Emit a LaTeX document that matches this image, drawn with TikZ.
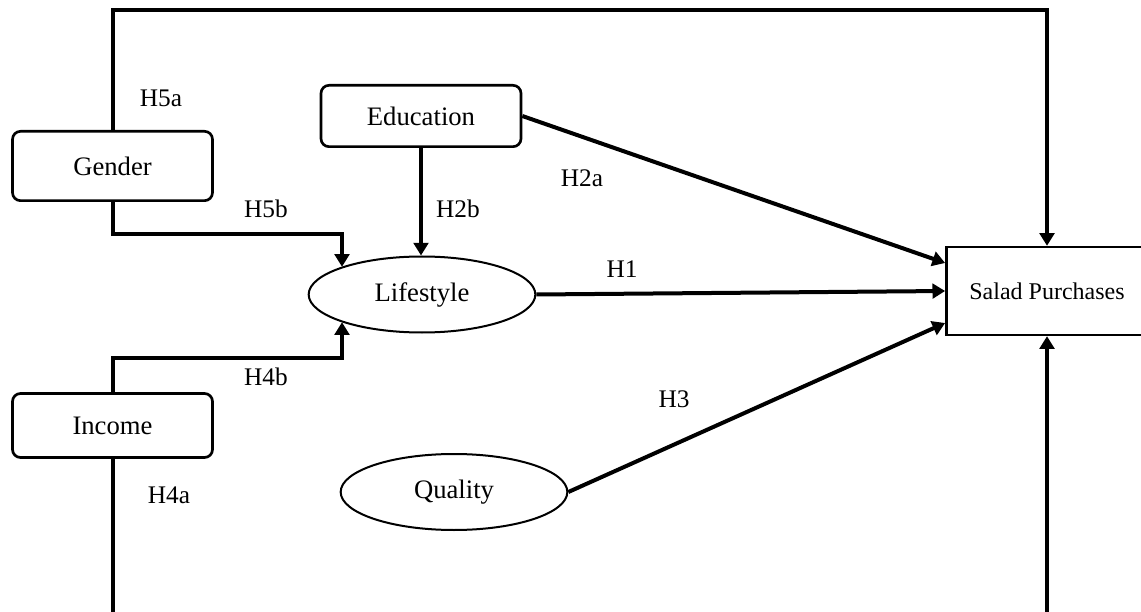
\documentclass[tikz,border=0pt]{standalone}
\usepackage{fontspec}
\setmainfont{Liberation Serif}
\usetikzlibrary{arrows.meta,shapes.geometric}

\begin{document}
\begin{tikzpicture}[x=0.75pt, y=0.75pt,
    rbox/.style={draw, rounded corners=6pt, line width=2pt, minimum width=150pt, font=\fontsize{20}{24}\selectfont},
    oval/.style={ellipse, draw, line width=1.5pt, minimum width=170pt, minimum height=57pt, font=\fontsize{20}{24}\selectfont},
    hyp/.style={inner sep=0pt, font=\fontsize{19}{23}\selectfont},
    conn/.style={line width=3pt, -{Triangle[length=9.5pt,width=11pt]}}]
                \useasboundingbox (0,0) rectangle (1141,611);
                % constructs
                \node(gender)    at(112.5, 445)   [rbox, minimum height=52pt] {Gender};
                \node(education) at(421, 495)     [rbox, minimum height=46pt] {Education};
                \node(income)    at(112.5, 185.5) [rbox, minimum height=48pt] {Income};
                \node(lifestyle) at(422, 316.5)   [oval] {Lifestyle};
                \node(quality)   at(454, 119)     [oval] {Quality};
                \node(salad)     at(1047, 320)    [draw, line width=1.8pt, minimum width=151pt, minimum height=66pt,
                                                   font=\fontsize{18}{22}\selectfont] {Salad Purchases};
                % hypotheses
                \node(h5a) at(161, 513) [hyp] {H5a};
                \node(h5b) at(266, 402) [hyp] {H5b};
                \node(h2b) at(458, 402) [hyp] {H2b};
                \node(h2a) at(582, 433) [hyp] {H2a};
                \node(h1)  at(622, 342) [hyp] {H1};
                \node(h3)  at(674, 212) [hyp] {H3};
                \node(h4b) at(266, 234) [hyp] {H4b};
                \node(h4a) at(169, 116) [hyp] {H4a};
                % bends
                \coordinate(top)  at(0, 601);
                \coordinate(gl)   at(342, 377);
                \coordinate(il)   at(342, 253);
                \coordinate(ibot) at(112.5, -10);
                \coordinate(sbot) at(1047, -10);
                \draw[conn] (gender.north) -- (gender.north |- top) -| (salad.north);
                \draw[conn] (gender.south) |- (gl) -- (gl |- lifestyle.161);
                \draw[conn] (income.north) |- (il) -- (il |- lifestyle.199);
                \draw[conn] (education.south) -- (education.south |- lifestyle.north);
                \draw[conn] (education.east) -- ([yshift=21pt]salad.west);
                \draw[conn] (lifestyle.east) -- (salad.west);
                \draw[conn] (quality.east) -- ([yshift=-24pt]salad.west);
                \draw[line width=3pt] (income.south) -- (ibot);
                \draw[conn] (sbot) -- (salad.south);
            \end{tikzpicture}
\end{document}
